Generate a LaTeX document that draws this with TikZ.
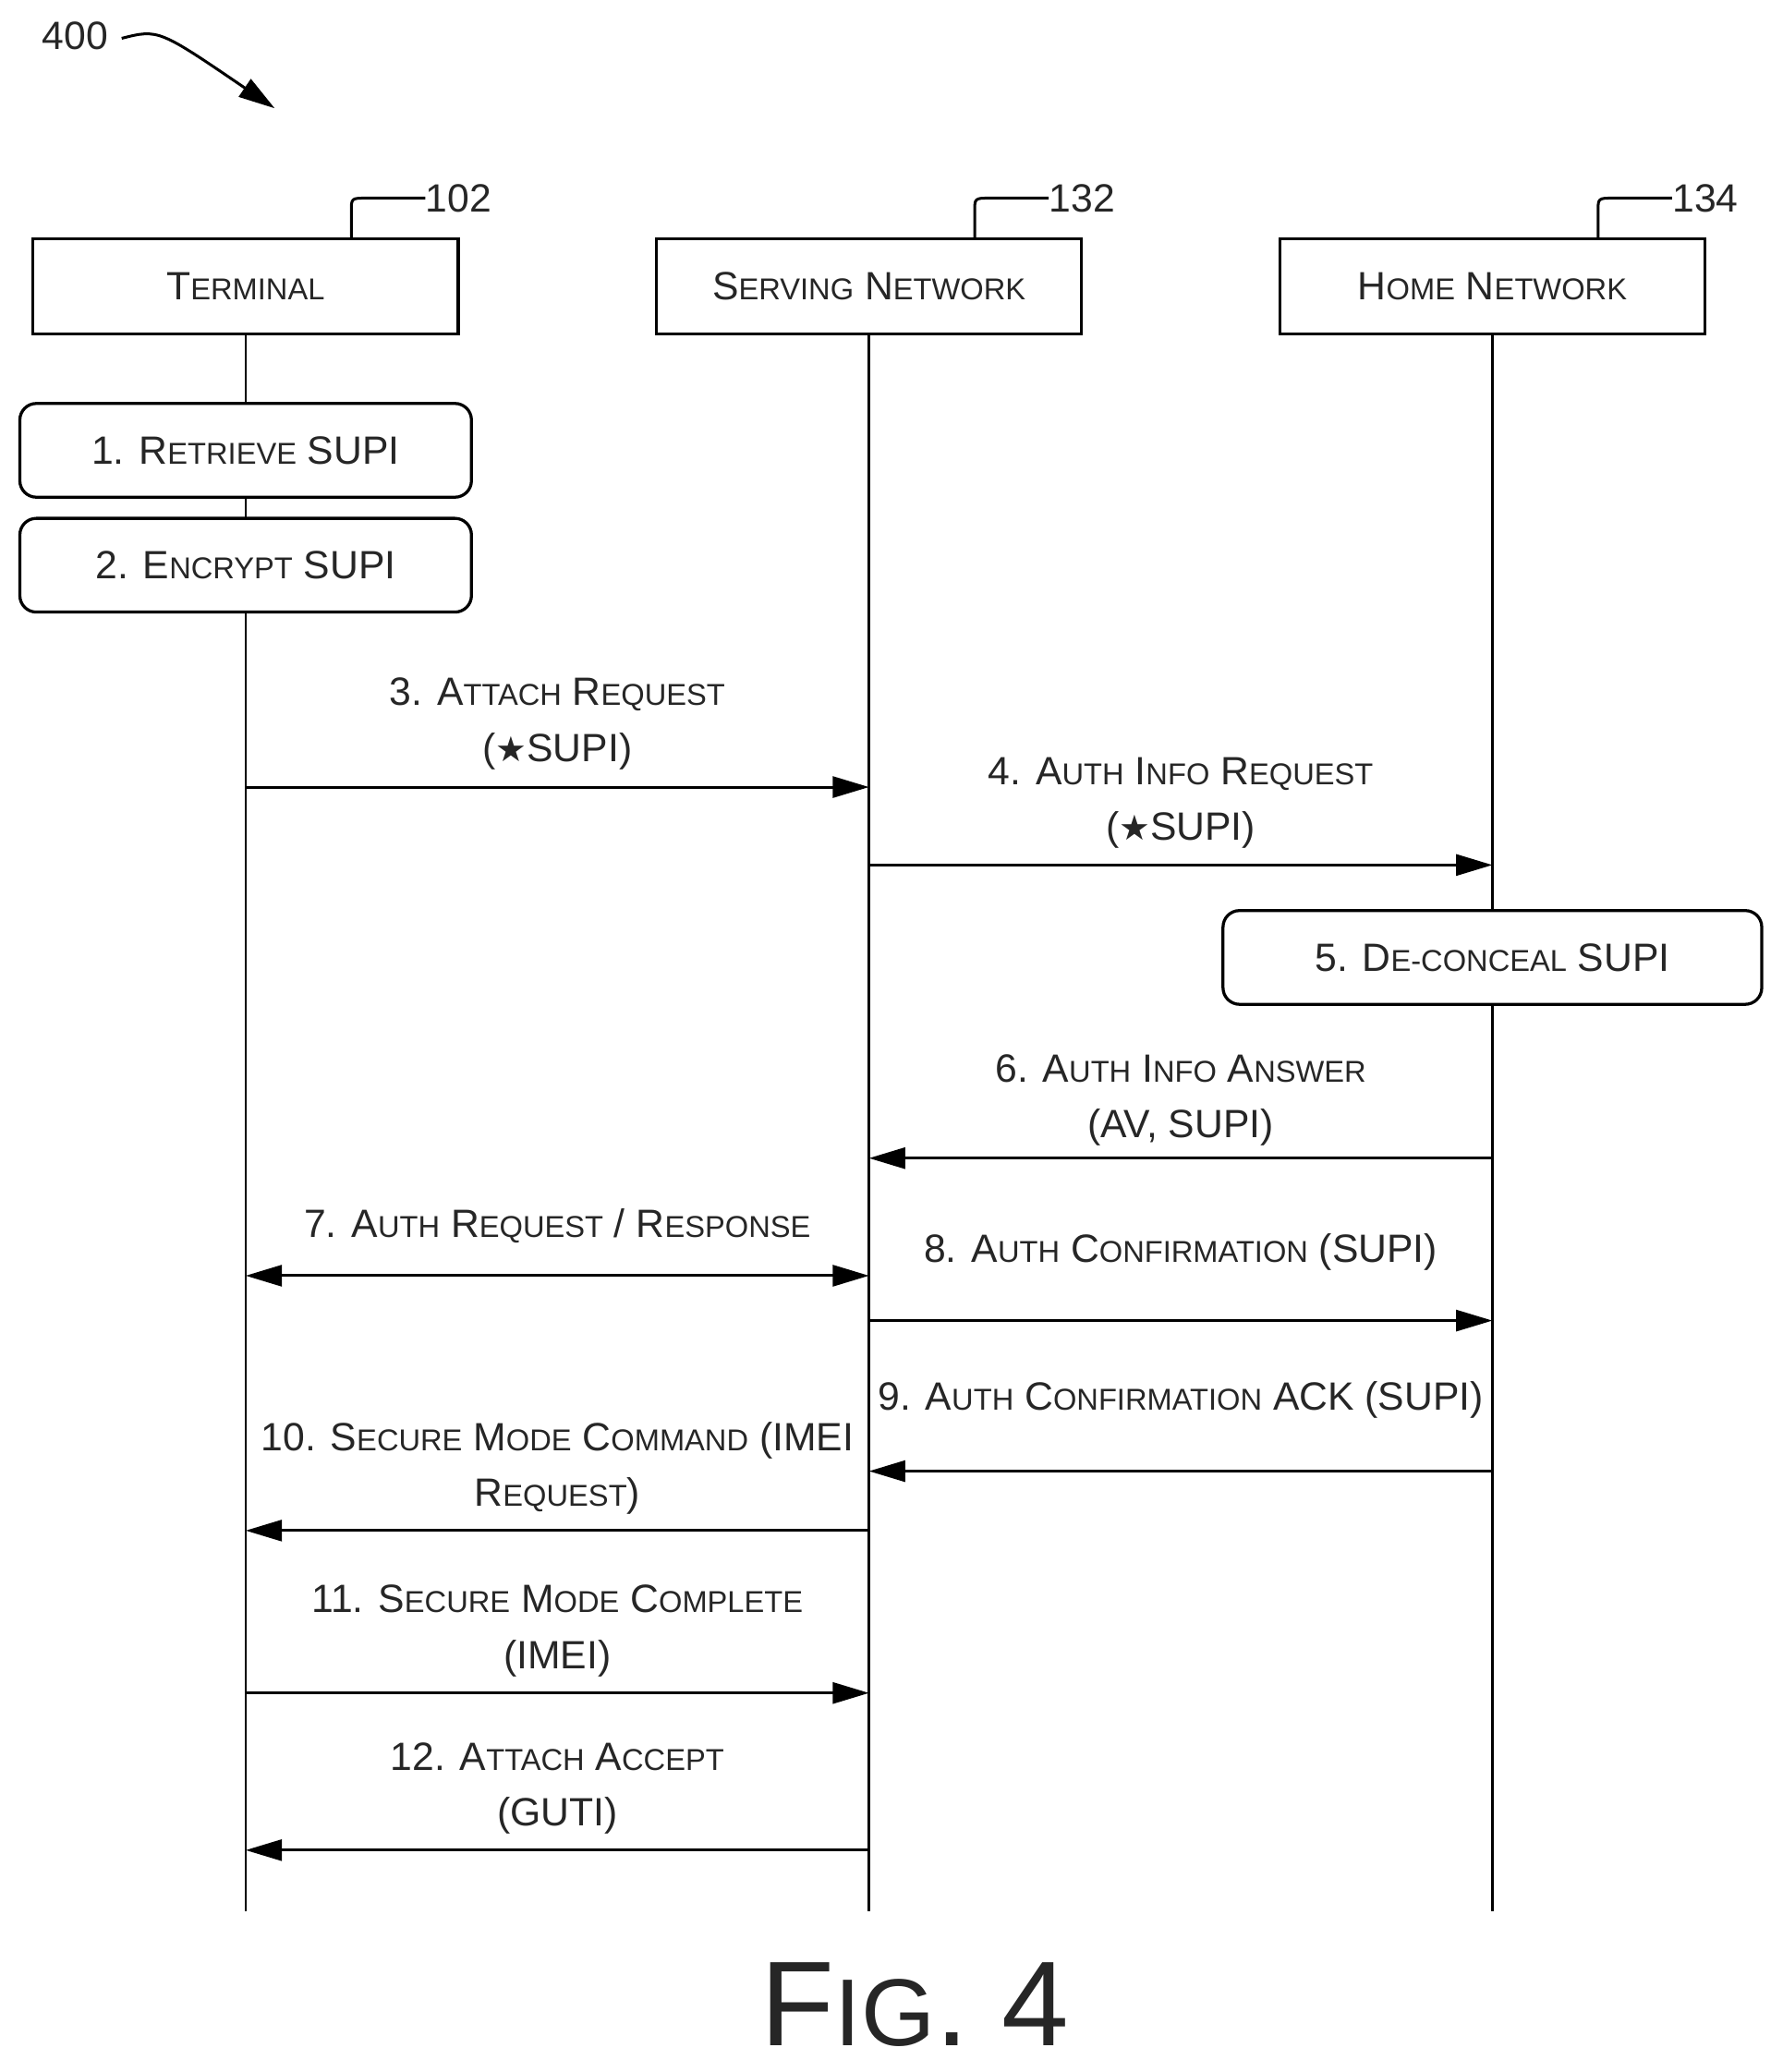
\documentclass[tikz,border=0pt]{standalone}
\usepackage{fontspec}
\setmainfont{Liberation Sans}
\newfontfamily\djv{DejaVu Sans}
\usetikzlibrary{arrows.meta}
\newcommand\SC[1]{{\fontsize{13}{15}\selectfont #1}}
\newcommand\st{{\djv\fontsize{15}{16}\selectfont ★}}
\begin{document}
\begin{tikzpicture}[x=0.02cm,y=-0.02cm,
  every node/.style={font=\fontsize{17}{24}\selectfont, align=center, text=black!85},
  ent/.style={draw, line width=1.3pt, minimum width=6.44cm, minimum height=1.44cm},
  act/.style={draw, line width=1.3pt, rounded corners=0.25cm, minimum height=1.42cm},
  msg/.style={line width=1.2pt, -{Triangle[length=0.55cm,width=0.32cm]}},
  life/.style={line width=1pt}]
\useasboundingbox (0,0) rectangle (1350,1569);
\node[ent] (t) at (186,217) {T\SC{ERMINAL}};
\node[ent] (s) at (658,217) {S\SC{ERVING} N\SC{ETWORK}};
\node[ent] (h) at (1130,217) {H\SC{OME} N\SC{ETWORK}};
\foreach \n/\x/\l in {t/186/102,s/658/132,h/1130/134}{
  \coordinate (\n b) at (\x,1447);
  \draw[life] (\n.south) -- (\n b);
  \node[anchor=west,inner sep=0] (\n r) at (\x+136,150) {\l};
  \draw[line width=1.2pt] (\x+80,181) -- (\x+80,160) .. controls (\x+80,150) .. (\x+92,150) -- (\n r.west);
}
\node[act, fill=white, minimum width=6.84cm] (a1) at (186,341) {1. R\SC{ETRIEVE} SUPI};
\node[act, fill=white, minimum width=6.84cm] (a2) at (186,428) {2. E\SC{NCRYPT} SUPI};
\node[act, fill=white, minimum width=8.16cm] (a5) at (1130,725) {5. D\SC{E-CONCEAL} SUPI};
\coordinate (t3) at (186,596); \coordinate (s3) at (658,596);
\draw[msg] (t3) -- (s3);
\node (l3) at (422,548) {3. A\SC{TTACH} R\SC{EQUEST}\\(\st SUPI)};
\coordinate (s4) at (658,655); \coordinate (h4) at (1130,655);
\draw[msg] (s4) -- (h4);
\node (l4) at (894,608) {4. A\SC{UTH} I\SC{NFO} R\SC{EQUEST}\\(\st SUPI)};
\coordinate (h6) at (1130,877); \coordinate (s6) at (658,877);
\draw[msg] (h6) -- (s6);
\node (l6) at (894,833) {6. A\SC{UTH} I\SC{NFO} A\SC{NSWER}\\(AV, SUPI)};
\coordinate (t7) at (186,966); \coordinate (s7) at (658,966);
\draw[msg, {Triangle[length=0.55cm,width=0.32cm]}-{Triangle[length=0.55cm,width=0.32cm]}] (t7) -- (s7);
\node (l7) at (422,928) {7. A\SC{UTH} R\SC{EQUEST} / R\SC{ESPONSE}};
\coordinate (s8) at (658,1000); \coordinate (h8) at (1130,1000);
\draw[msg] (s8) -- (h8);
\node (l8) at (894,948) {8. A\SC{UTH} C\SC{ONFIRMATION} (SUPI)};
\coordinate (h9) at (1130,1114); \coordinate (s9) at (658,1114);
\draw[msg] (h9) -- (s9);
\node (l9) at (894,1060) {9. A\SC{UTH} C\SC{ONFIRMATION} ACK (SUPI)};
\coordinate (s10) at (658,1159); \coordinate (t10) at (186,1159);
\draw[msg] (s10) -- (t10);
\node (l10) at (422,1112) {10. S\SC{ECURE} M\SC{ODE} C\SC{OMMAND} (IMEI\\R\SC{EQUEST})};
\coordinate (t11) at (186,1282); \coordinate (s11) at (658,1282);
\draw[msg] (t11) -- (s11);
\node (l11) at (422,1235) {11. S\SC{ECURE} M\SC{ODE} C\SC{OMPLETE}\\(IMEI)};
\coordinate (s12) at (658,1401); \coordinate (t12) at (186,1401);
\draw[msg] (s12) -- (t12);
\node (l12) at (422,1354) {12. A\SC{TTACH} A\SC{CCEPT}\\(GUTI)};
\node[font=\fontsize{52}{56}\selectfont, inner sep=0] (fig) at (693,1518) {F{\fontsize{41}{46}\selectfont IG}. 4};
\node (n400) at (57,27) {400};
\coordinate (p400) at (208,82);
\draw[msg] (n400.east) ++(4,2) .. controls (120,22) .. (p400);
\end{tikzpicture}
\end{document}
